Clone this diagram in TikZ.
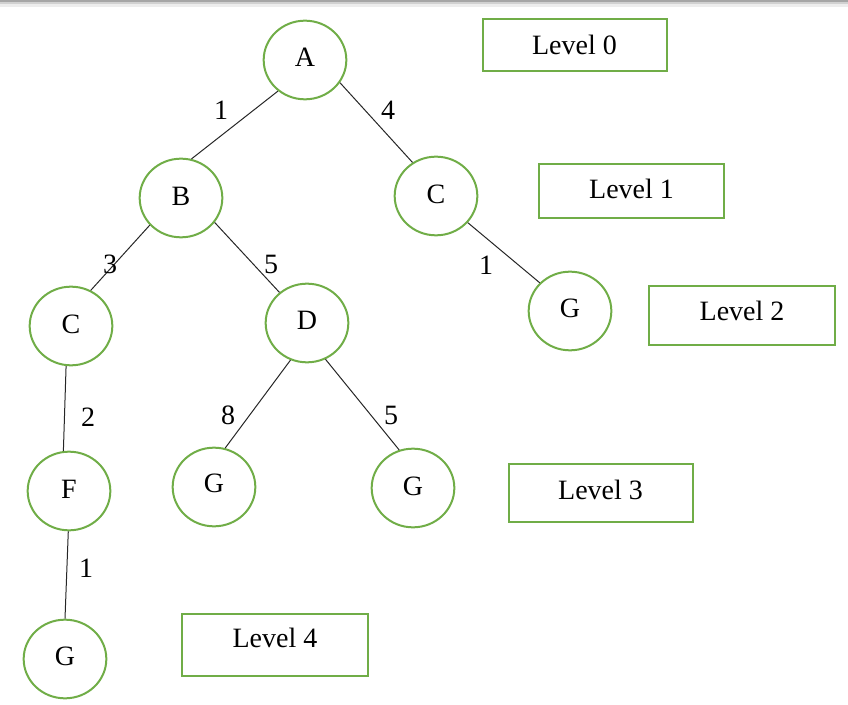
\documentclass[tikz,border=0pt]{standalone}
\usepackage{fontspec}
\setmainfont{Liberation Serif}
\usetikzlibrary{shapes.geometric}
\definecolor{lvgreen}{HTML}{70AD47}
\newcommand{\uplift}[2]{\raisebox{#1}{#2}}
\begin{document}
\begin{tikzpicture}[x=0.75pt,y=-0.75pt,
  vert/.style={ellipse,draw=lvgreen,line width=1.5pt,minimum width=62pt,minimum height=59pt,inner sep=0pt,font=\fontsize{21}{25}\selectfont},
  lvl/.style={rectangle,draw=lvgreen,line width=1.5pt,inner sep=0pt,font=\fontsize{21}{25}\selectfont},
  wt/.style={font=\fontsize{21}{25}\selectfont,inner sep=0pt},
  link/.style={draw=black!85,line width=0.75pt}]
\useasboundingbox (0,0) rectangle (848,705);
\fill[black!35] (0,0) rectangle (848,2);
\fill[black!18] (0,2) rectangle (848,4);
\fill[black!7] (0,4) rectangle (848,7);
% vertices
\node[vert] (A) at (305,60) {\uplift{4pt}{A}};
\node[vert] (B) at (181,198) {\uplift{3pt}{B}};
\node[vert] (C1) at (436,196) {\uplift{3pt}{C}};
\node[vert] (C2) at (71,326) {\uplift{3pt}{C}};
\node[vert] (D) at (307,323) {\uplift{4pt}{D}};
\node[vert] (G2) at (570,311) {\uplift{4pt}{G}};
\node[vert] (F) at (69,491) {\uplift{2pt}{F}};
\node[vert] (G3a) at (214,487) {\uplift{5pt}{G}};
\node[vert] (G3b) at (413,488) {\uplift{3pt}{G}};
\node[vert] (G4) at (65,659) {\uplift{4pt}{G}};
% level boxes
\node[lvl,minimum width=138pt,minimum height=39pt] (L0) at (574.5,45.5) {\uplift{0.8pt}{Level 0}};
\node[lvl,minimum width=139pt,minimum height=40pt] (L1) at (631.5,191) {\uplift{3pt}{Level 1}};
\node[lvl,minimum width=139pt,minimum height=44pt] (L2) at (742,315.5) {\uplift{7.5pt}{Level 2}};
\node[lvl,minimum width=138pt,minimum height=43pt] (L3) at (600.5,493) {\uplift{4.5pt}{Level 3}};
\node[lvl,minimum width=139pt,minimum height=46pt] (L4) at (275,645) {\uplift{10.5pt}{Level 4}};
% edges
\draw[link] (A.229) -- (B.75);
\draw[link] (A.327) -- (C1.125);
\draw[link] (B.221) -- (C2.61);
\draw[link] (B.324) -- (D.132);
\draw[link] (C2.263) -- (F.98);
\draw[link] (D.246) -- (G3a.74);
\draw[link] (D.297) -- (G3b.110);
\draw[link] (C1.320) -- (G2.137);
\draw[link] (F.269) -- (G4.90);
% weights
\node[wt] (wAB) at (221,110) {1};
\node[wt] (wAC) at (388,110) {4};
\node[wt] (wBC) at (110,264) {3};
\node[wt] (wBD) at (271,264) {5};
\node[wt] (wCF) at (88,417) {2};
\node[wt] (wDGa) at (228,415) {8};
\node[wt] (wDGb) at (391,415) {5};
\node[wt] (wCG) at (486,265) {1};
\node[wt] (wFG) at (86,568) {1};
\end{tikzpicture}
\end{document}
